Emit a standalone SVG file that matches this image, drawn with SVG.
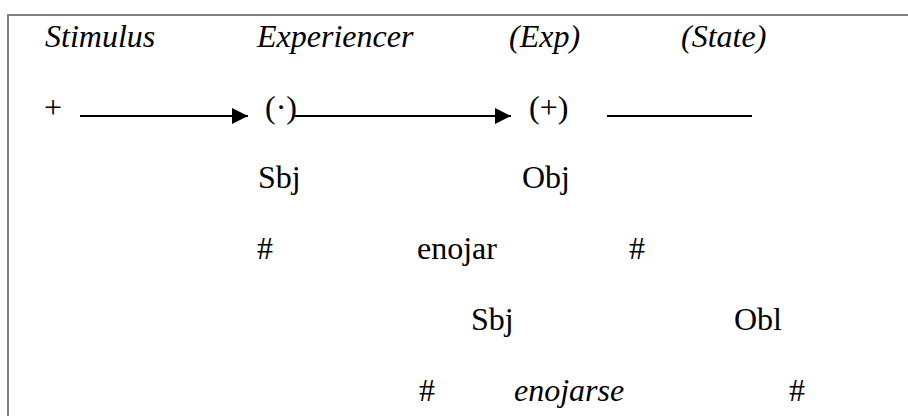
<svg xmlns="http://www.w3.org/2000/svg" width="908" height="416" viewBox="0 0 908 416" font-family="'Liberation Serif', 'Times New Roman', Tinos, 'Nimbus Roman', 'DejaVu Serif', serif">
<style>
text{font-family:'Liberation Serif','Times New Roman',Tinos,'Nimbus Roman','DejaVu Serif',serif;font-size:32px;fill:#000}
.it{font-style:italic}
.frame{stroke:#808080;stroke-width:2;fill:none}
.conn{stroke:#000;stroke-width:2;fill:none}
</style>
<defs>
<marker id="ah" markerWidth="8" markerHeight="8" refX="8" refY="4" orient="auto" markerUnits="strokeWidth">
<path d="M0,0 L8,4 L0,8 Z" fill="#000"/>
</marker>
</defs>
<rect width="908" height="416" fill="#fff"/>
<path class="frame" d="M8,416 V15 H908"/>
<g id="labels">
<text id="stimulus" class="it" x="45" y="47">Stimulus</text>
<text id="experiencer" class="it" x="257" y="47">Experiencer</text>
<text id="exp" class="it" x="509" y="47">(Exp)</text>
<text id="state" class="it" x="681" y="47">(State)</text>
</g>
<g id="n-plus"><text x="44" y="118">+</text></g>
<g id="n-dot"><text x="265" y="118">(·)</text></g>
<g id="n-pluspar"><text x="529" y="118">(+)</text></g>
<g id="connectors">
<line class="conn" x1="80" y1="116" x2="248" y2="116" marker-end="url(#ah)"/>
<line class="conn" x1="295" y1="116" x2="511" y2="116" marker-end="url(#ah)"/>
<line class="conn" x1="607" y1="116" x2="752" y2="116"/>
</g>
<g id="row3">
<text x="258" y="188">Sbj</text>
<text x="522" y="188">Obj</text>
</g>
<g id="row4">
<text x="257" y="259">#</text>
<text x="417" y="259">enojar</text>
<text x="629" y="259">#</text>
</g>
<g id="row5">
<text x="471" y="330">Sbj</text>
<text x="734" y="330">Obl</text>
</g>
<g id="row6">
<text x="419" y="401">#</text>
<text class="it" x="514" y="401">enojarse</text>
<text x="789" y="401">#</text>
</g>
</svg>
